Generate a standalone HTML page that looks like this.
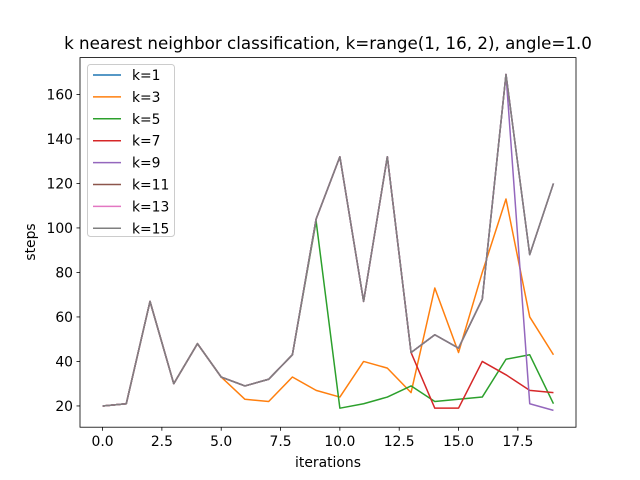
<!DOCTYPE html>
<html><head><meta charset="utf-8"><style>
body{margin:0;background:#fff}
svg{display:block;font-family:"DejaVu Sans","Liberation Sans",sans-serif}
</style></head><body>
<svg id="chart" width="640" height="480">
<rect width="640" height="480" fill="#fff"/>
<text x="328" y="49" font-size="16.7" text-anchor="middle">k nearest neighbor classification, k=range(1, 16, 2), angle=1.0</text>
<g id="plot"></g>
<text x="328" y="467" font-size="13.9" text-anchor="middle">iterations</text>
<text x="35" y="242" font-size="13.9" text-anchor="middle" transform="rotate(-90 35 242)">steps</text>
</svg>
<script>
const common=[20,21,67,30,48,33,29,32,43,104,132,67,132,44,52,46,68,169,88,120];
const k3=[20,21,67,30,48,33,23,22,33,27,24,40,37,26,73,44,80,113,60,43];
const k5=[20,21,67,30,48,33,29,32,43,103,19,21,24,29,22,23,24,41,43,21];
const k7=[20,21,67,30,48,33,29,32,43,104,132,67,132,44,19,19,40,34,27,26];
const k9=[20,21,67,30,48,33,29,32,43,104,132,67,132,44,52,46,68,169,21,18];
const seriesNames=["k=1","k=3","k=5","k=7","k=9","k=11","k=13","k=15"];
const seriesData=[common,k3,k5,k7,k9,common,common,common];
const colors=["#1f77b4","#ff7f0e","#2ca02c","#d62728","#9467bd","#8c564b","#e377c2","#7f7f7f"];
const xTicks=[0,2.5,5,7.5,10,12.5,15,17.5];
const yTicks=[20,40,60,80,100,120,140,160];
const L=80,R=576,T=57.6,B=427.2;
const n=common.length;
let all=[].concat(...seriesData);
const ymin=Math.min(...all),ymax=Math.max(...all),pad=(ymax-ymin)*0.05;
const x0=-0.05*(n-1),x1=(n-1)*1.05;
const X=v=>L+(v-x0)/(x1-x0)*(R-L);
const Y=v=>B-(v-(ymin-pad))/((ymax+pad)-(ymin-pad))*(B-T);
const g=document.getElementById('plot');
const NS="http://www.w3.org/2000/svg";
function mk(t,a){const e=document.createElementNS(NS,t);for(const k in a)e.setAttribute(k,a[k]);g.appendChild(e);return e;}
seriesData.forEach((d,i)=>{
 const p=mk('polyline',{points:d.map((v,j)=>X(j)+','+Y(v)).join(' '),fill:'none',stroke:colors[i],'stroke-width':1.5,'stroke-linejoin':'round'});
 
 
});
const fr=mk('rect',{x:L,y:T,width:R-L,height:B-T,fill:'none',stroke:'#000','stroke-width':0.8});


xTicks.forEach(t=>{
 const l=mk('line',{x1:X(t),x2:X(t),y1:B,y2:B+3.5,stroke:'#000','stroke-width':0.8});
 
 
 const tx=mk('text',{x:X(t),y:B+19,'font-size':13.9,'text-anchor':'middle'});tx.textContent=t.toFixed(1);
 
 
});
yTicks.forEach(t=>{
 const l=mk('line',{x1:L-3.5,x2:L,y1:Y(t),y2:Y(t),stroke:'#000','stroke-width':0.8});
 
 
 const tx=mk('text',{x:L-7,y:Y(t)+5,'font-size':13.9,'text-anchor':'end'});tx.textContent=t;
 
 
});
const lg=mk('rect',{x:87.5,y:64.5,width:87,height:172,rx:3,fill:'#fff','fill-opacity':0.8,stroke:'#ccc'});


seriesNames.forEach((s,i)=>{
 const y=75+i*21.9;
 const l=mk('line',{x1:93,x2:121,y1:y,y2:y,stroke:colors[i],'stroke-width':1.5});
 
 
 const tx=mk('text',{x:132,y:y+5,'font-size':13.9});tx.textContent=s;
 
 
});
</script>
</body></html>
